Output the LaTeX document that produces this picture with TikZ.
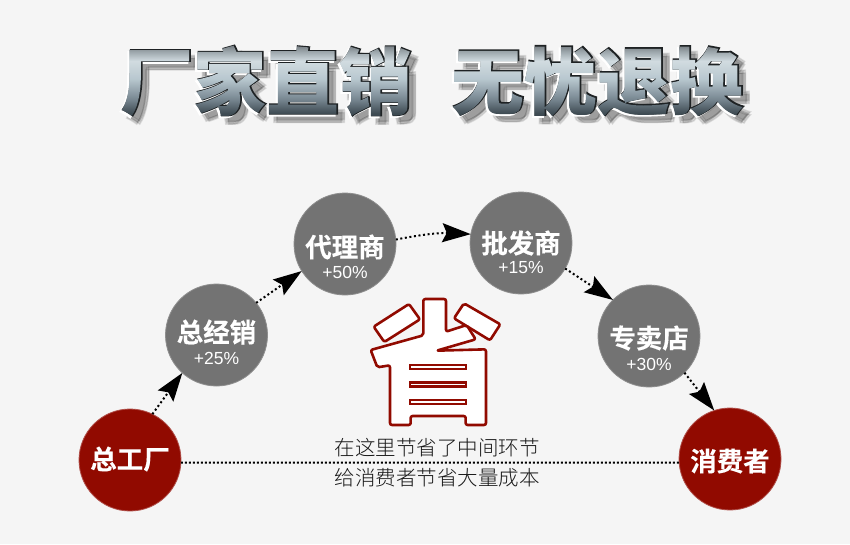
\documentclass[tikz,border=0pt]{standalone}
\usepackage{fontspec}
\usetikzlibrary{arrows.meta}
\setmainfont{Liberation Sans}
\newfontfamily\cjkedge[FakeBold=2.0]{Noto Sans CJK SC Black}
\newfontfamily\cjkface{Noto Sans CJK SC Black}
\newfontfamily\cjkb[FakeBold=0.25]{Noto Sans CJK SC Bold}
\newfontfamily\cjkl{Noto Sans CJK SC Light}
\definecolor{pagebg}{HTML}{F5F5F5}
\definecolor{disc}{HTML}{737373}
\definecolor{rim}{HTML}{8E8E8E}
\definecolor{darkred}{HTML}{910A00}
\definecolor{redrim}{HTML}{B0504A}
\definecolor{titleedge}{HTML}{1E2224}
\pgfdeclareverticalshading{metal}{80bp}{
  rgb(0bp)=(0.20,0.25,0.28);
  rgb(8bp)=(0.25,0.30,0.33);
  rgb(22bp)=(0.47,0.53,0.57);
  rgb(42bp)=(0.72,0.78,0.81);
  rgb(60bp)=(0.82,0.86,0.88);
  rgb(70bp)=(0.60,0.64,0.66);
  rgb(78bp)=(0.40,0.42,0.44);
  rgb(80bp)=(0.40,0.42,0.44)}
\tikzset{
  station/.style={circle,minimum size=102pt,inner sep=0pt,outer sep=0pt,fill=disc,draw=rim,line width=0.8pt},
  terminal/.style={station,fill=darkred,draw=redrim},
  mainlabel/.style={text=white,inner sep=0pt,font={\cjkb\fontsize{26.5}{27}\selectfont}},
  sublabel/.style={text=white,inner sep=0pt,font={\fontsize{17.5}{18}\selectfont}},
  flow/.style={line width=2pt,dash pattern=on 2pt off 2.6pt,black,-{Stealth[length=28.5pt,width=19pt,inset=4.5pt]}},
  plainflow/.style={line width=2pt,dash pattern=on 2pt off 2pt,black},
  note/.style={font={\cjkl\fontsize{20.5}{22}\selectfont},text=black!90,inner sep=0pt},
  seal/.style={draw=darkred,fill=white,line width=2.6pt,rounded corners=2pt,line join=round},
  titlecopy/.style={inner sep=0pt}
}
% a title word used as a clip for the metal gradient
\newcommand{\metalword}[1]{%
  \setbox0=\hbox{\cjkface\fontsize{73}{73}\selectfont #1}%
  \leavevmode\special{pdf:code q 7 Tr}\copy0\special{pdf:code 0 Tr}%
  \kern-\wd0\raisebox{-12pt}{\resizebox{\wd0}{80pt}{\pgfuseshading{metal}}}%
  \kern-\wd0\special{pdf:code Q}\kern\wd0}
\newcommand{\titleword}[3]{%
  \foreach \dx/\dy in {8/8,6/6,5/8,8/5}{\node[titlecopy,text=black,opacity=0.10,font={\cjkedge\fontsize{73}{73}\selectfont}] (s#1) at (#2+\dx,81+\dy) {#3};}
  \node[titlecopy,text=white,font={\cjkedge\fontsize{73}{73}\selectfont}] (w#1) at (#2-1.5,81+1.5) {#3};
  \node[titlecopy,text=titleedge,font={\cjkedge\fontsize{73}{73}\selectfont}] (e#1) at (#2+1,81-0.5) {#3};
  \node[titlecopy] (t#1) at (#2,81) {\metalword{#3}};}
\begin{document}
\begin{tikzpicture}[x=1pt,y=-1pt]
\useasboundingbox (0,0) rectangle (850,544);
\fill[pagebg] (0,0) rectangle (850,544);
\titleword{a}{266}{厂家直销}
\titleword{b}{597}{无忧退换}
% stations
\node[terminal] (f) at (130,460) {};
\node[station] (j) at (216.5,335) {};
\node[station] (d) at (345,244) {};
\node[station] (p) at (521,243) {};
\node[station] (z) at (649,336) {};
\node[terminal] (x) at (730,459) {};
\node[mainlabel] (fm) at ([yshift=1pt]f.center) {总工厂};
\node[mainlabel] (xm) at ([yshift=-2pt]x.center) {消费者};
\node[mainlabel] (jm) at ([yshift=3pt]j.center) {总经销};
\node[sublabel] (js) at ([yshift=-23pt]j.center) {+25\%};
\node[mainlabel] (dm) at ([yshift=-3pt]d.center) {代理商};
\node[sublabel] (ds) at ([yshift=-28pt]d.center) {+50\%};
\node[mainlabel] (pm) at (p.center) {批发商};
\node[sublabel] (ps) at ([yshift=-25pt]p.center) {+15\%};
\node[mainlabel] (zm) at ([yshift=-2pt]z.center) {专卖店};
\node[sublabel] (zs) at ([yshift=-28pt]z.center) {+30\%};
% connectors
\draw[flow] (f.64) -- (j.228);
\draw[flow] (j.39) -- (d.212);
\draw[flow] (d.5) to[bend left=7] (p.170);
\draw[flow] (p.-30) -- (z.135);
\draw[flow] (z.-46) -- (x.108);
\draw[plainflow] (f.-3.4) -- (x.184.5);
% seal glyph
\begin{scope}[shift={(340,280)},x=0.3333pt,y=-0.3333pt]
\draw[seal] (207,72) -- (240,118) -- (133,186) -- (101,140) -- cycle;
\draw[seal] (372,70) -- (481,133) -- (450,181) -- (342,115) -- cycle;
\draw[seal] (92,210) -- (250,166) -- (250,57) -- (318,57) -- (318,155) -- (380,135) -- (407,178) -- (290,212) -- (438,208) -- (438,435) -- (377,435) -- (377,408) -- (212,408) -- (212,435) -- (150,435) -- (150,256) -- (112,262) -- cycle;
\foreach \yy in {255.5,307.5,359.5}{\draw[draw=darkred,fill=white,line width=2.4pt] (210.5,\yy) rectangle (377.5,\yy+12);}
\end{scope}
\node[note] (n1) at (437,448) {在这里节省了中间环节};
\node[note] (n2) at (437,478) {给消费者节省大量成本};
\end{tikzpicture}
\end{document}
